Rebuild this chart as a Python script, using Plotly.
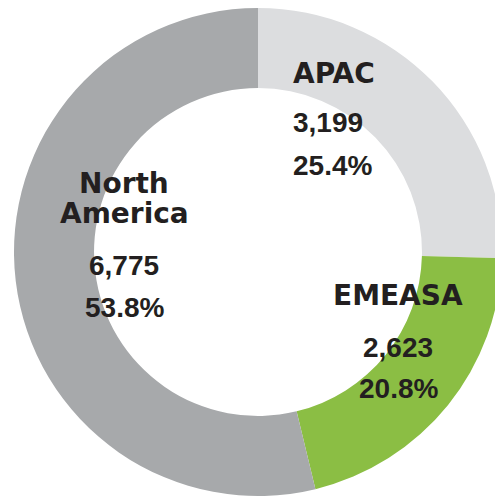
import plotly.graph_objects as go

regions = ["APAC", "EMEASA", "North America"]
label_lines = [["APAC"], ["EMEASA"], ["North", "America"]]
counts = [3199, 2623, 6775]
shares = ["25.4%", "20.8%", "53.8%"]
colors = ["#dcdddf", "#8bbe44", "#a7a9ab"]

W, H = 502, 497
L, T, SIDE = 14, 8, 488
INK = "#231f20"


def px(x, y):
    # pixel position on the page -> paper coords of the pie domain
    return (x - L) / SIDE, 1 - (y - T) / SIDE


fig = go.Figure(go.Pie(
    labels=regions,
    values=counts,
    hole=0.672,
    sort=False,
    direction="clockwise",
    rotation=0,
    marker=dict(colors=colors, line=dict(width=0)),
    textinfo="none",
    hoverinfo="label+value+percent",
    showlegend=False,
))

# label block placement: (x centre/left, anchor, label line y's, count y, share y)
spots = {
    "APAC": (291, "left", [73], 123, 165),
    "EMEASA": (398, "center", [295], 347, 388),
    "North America": (124, "center", [184, 213], 265, 307),
}

annotations = []
for name, lines, n, pct in zip(regions, label_lines, counts, shares):
    x, anchor, ys, yc, yp = spots[name]
    for line, y in zip(lines, ys):
        ax, ay = px(x, y)
        annotations.append(dict(x=ax, y=ay, text=line, xanchor=anchor, yanchor="middle",
                                font=dict(family="DejaVu Sans", size=28, color=INK, weight="bold")))
    for txt, y in ((f"{n:,}", yc), (pct, yp)):
        ax, ay = px(x, y)
        annotations.append(dict(x=ax, y=ay, text=txt, xanchor=anchor, yanchor="middle",
                                font=dict(family="Liberation Sans", size=28, color=INK, weight="bold")))

fig.update_layout(
    width=W, height=H, autosize=False,
    margin=dict(l=L, r=W - L - SIDE, t=T, b=H - T - SIDE, pad=0),
    paper_bgcolor="white", plot_bgcolor="white",
    annotations=annotations,
)
for a in fig.layout.annotations:
    a.xref = "paper"
    a.yref = "paper"
    a.showarrow = False

fig.write_html("out.html", config={"displayModeBar": False},
               post_script="document.body.style.margin='0';document.body.style.overflow='hidden';")
